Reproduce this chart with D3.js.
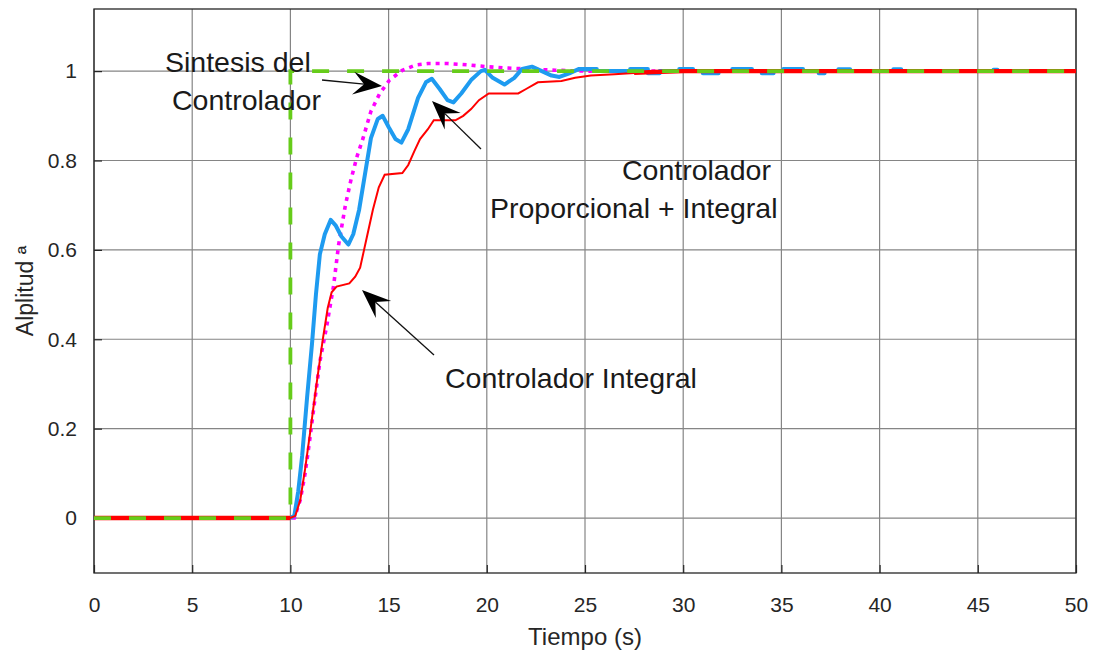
<!DOCTYPE html>
<html>
<head>
<meta charset="utf-8">
<script src="https://cdn.jsdelivr.net/npm/d3@7/dist/d3.min.js"></script>
<style>
  html, body { margin: 0; padding: 0; background: #ffffff; }
  svg { display: block; font-family: "Liberation Sans", Arial, sans-serif; }
</style>
</head>
<body>
<svg id="chart" width="1098" height="659"></svg>
<script>
// Step input (reference)
const refT = [0, 10, 10, 50];
const refY = [0, 0, 1, 1];

// Designed closed-loop response ("Sintesis del Controlador")
const synthT = [0, 10, 10.2, 10.5, 10.75, 11.0, 11.2, 11.5, 11.85, 12.2, 12.45, 12.8, 13.1, 13.4, 13.7, 14.1, 14.55, 15.05, 15.7, 16.4, 17.0, 18.0, 19.0, 20.0, 21.0, 22.0, 23.5, 25.0, 50];
const synthY = [0, 0, 0, 0.04, 0.10, 0.18, 0.25, 0.35, 0.43, 0.52, 0.61, 0.70, 0.76, 0.81, 0.85, 0.91, 0.95, 0.98, 1.002, 1.014, 1.017, 1.017, 1.014, 1.010, 1.007, 1.005, 1.002, 1.0, 1.0];

// PI controller response
const piT = [0, 10, 10.2, 10.4, 10.6, 10.85, 11.1, 11.3, 11.5, 11.75, 12.05, 12.3, 12.6, 12.95, 13.2, 13.5, 13.8, 14.1, 14.45, 14.7, 15.0, 15.35, 15.65, 16.0, 16.5, 16.9, 17.2, 17.6, 18.0, 18.3, 18.7, 19.2, 19.7, 19.9, 20.3, 20.9, 21.4, 21.8, 22.3, 22.8, 23.3, 23.7, 24.2, 24.7, 25.6, 25.6,
  27.3, 27.3, 28.2, 28.2, 28.8, 28.8, 29.8, 29.8, 30.5, 30.5, 31.0, 31.0, 31.8, 31.8, 32.5, 32.5, 33.5, 33.5, 34.0, 34.0, 34.6, 34.6, 35.1, 35.1, 36.1, 36.1, 36.9, 36.9, 37.2, 37.2, 37.9, 37.9, 38.5, 38.5, 40.7, 40.7, 41.1, 41.1, 45.8, 45.8, 46.0, 46.0, 50];
const piY = [0, 0, 0.005, 0.06, 0.14, 0.27, 0.39, 0.50, 0.59, 0.635, 0.667, 0.655, 0.63, 0.612, 0.635, 0.69, 0.77, 0.85, 0.893, 0.90, 0.875, 0.848, 0.84, 0.87, 0.94, 0.975, 0.983, 0.96, 0.935, 0.93, 0.95, 0.98, 1.0, 1.003, 0.985, 0.97, 0.985, 1.005, 1.01, 1.0, 0.99, 0.987, 0.995, 1.005, 1.005, 1.0,
  1.0, 1.005, 1.005, 0.995, 0.995, 1.0, 1.0, 1.005, 1.005, 1.0, 1.0, 0.995, 0.995, 1.0, 1.0, 1.005, 1.005, 1.0, 1.0, 0.995, 0.995, 1.0, 1.0, 1.005, 1.005, 1.0, 1.0, 0.995, 0.995, 1.0, 1.0, 1.004, 1.004, 1.0, 1.0, 1.004, 1.004, 1.0, 1.0, 1.003, 1.003, 1.0, 1.0];

// Integral controller response
const intT = [0, 10, 10.25, 10.5, 10.75, 11.0, 11.3, 11.65, 11.9, 12.1, 12.35, 13.0, 13.3, 13.55, 13.75, 13.9, 14.2, 14.5, 14.8, 15.7, 16.0, 16.3, 16.6, 17.0, 17.3, 18.4, 18.8, 19.2, 19.6, 20.1, 21.6, 22.0, 22.6, 23.8, 24.5, 25.3, 26.5, 27.5, 28.5, 30.0, 50];
const intY = [0, 0, 0.005, 0.04, 0.11, 0.19, 0.29, 0.40, 0.47, 0.505, 0.518, 0.525, 0.54, 0.56, 0.60, 0.63, 0.69, 0.74, 0.768, 0.772, 0.79, 0.82, 0.848, 0.87, 0.89, 0.89, 0.90, 0.915, 0.935, 0.95, 0.95, 0.96, 0.975, 0.978, 0.985, 0.99, 0.993, 0.996, 0.998, 1.0, 1.0];

const xTicks = [0, 5, 10, 15, 20, 25, 30, 35, 40, 45, 50];
const yTicks = [0, 0.2, 0.4, 0.6, 0.8, 1];
const xTickLabels = ["0", "5", "10", "15", "20", "25", "30", "35", "40", "45", "50"];
const yTickLabels = ["0", "0.2", "0.4", "0.6", "0.8", "1"];

const xTitle = "Tiempo (s)";
const yTitle = "Alplitud ª";

const svg = d3.select("#chart");
const plotLeft = 94, plotRight = 1076, plotTop = 9, plotBottom = 573;

const x = d3.scaleLinear().domain([0, 50]).range([plotLeft, plotRight]);
const y = d3.scaleLinear().domain([-0.123, 1.139]).range([plotBottom, plotTop]);

const zip = (ts, vs) => ts.map((t, i) => ({ t: t, v: vs[i] }));

// Grid
const grid = svg.append("g").attr("stroke", "#858585").attr("stroke-width", 1.2);
grid.selectAll("line.gx").data(xTicks).join("line").attr("class", "gx")
  .attr("x1", d => x(d)).attr("x2", d => x(d)).attr("y1", plotTop).attr("y2", plotBottom);
grid.selectAll("line.gy").data(yTicks).join("line").attr("class", "gy")
  .attr("x1", plotLeft).attr("x2", plotRight).attr("y1", d => y(d)).attr("y2", d => y(d));

// Axes
const axisColor = "#262626";
const xAxis = svg.append("g").attr("transform", `translate(0,${plotBottom})`)
  .call(d3.axisBottom(x).tickValues(xTicks).tickFormat((d, i) => xTickLabels[i]).tickSize(-8).tickPadding(24));
const yAxis = svg.append("g").attr("transform", `translate(${plotLeft},0)`)
  .call(d3.axisLeft(y).tickValues(yTicks).tickFormat((d, i) => yTickLabels[i]).tickSize(-8).tickPadding(17));
[xAxis, yAxis].forEach(a => {
  a.select(".domain").remove();
  a.selectAll(".tick line").attr("stroke", axisColor).attr("stroke-width", 1.2);
  a.selectAll(".tick text").attr("fill", axisColor).style("font-size", "21px")
    .style("font-family", "'Liberation Sans', Arial, sans-serif");
});

svg.append("rect").attr("x", plotLeft).attr("y", plotTop).attr("width", plotRight - plotLeft).attr("height", plotBottom - plotTop)
  .attr("fill", "none").attr("stroke", axisColor).attr("stroke-width", 1.3);

// Series (designed response underneath, then PI, integral, step input)
const line = d3.line().x(d => x(d.t)).y(d => y(d.v));
const plot = svg.append("g");

plot.append("path").datum(zip(synthT, synthY)).attr("d", line)
  .attr("fill", "none").attr("stroke", "#ff00ff").attr("stroke-width", 3.6)
  .attr("stroke-dasharray", "4 5");

plot.append("path").datum(zip(piT, piY)).attr("d", line)
  .attr("fill", "none").attr("stroke", "#1e9bf0").attr("stroke-width", 4).attr("stroke-linejoin", "round");

const intData = zip(intT, intY);
plot.append("path").datum(intData).attr("d", line)
  .attr("fill", "none").attr("stroke", "#ff0000").attr("stroke-width", 2);
// settled levels of the integral response drawn with the heavier scope stroke
plot.append("path").datum(intData)
  .attr("d", d3.line().defined(d => d.t <= 10 || d.t >= 27).x(d => x(d.t)).y(d => y(d.v)))
  .attr("fill", "none").attr("stroke", "#ff0000").attr("stroke-width", 4.4);

plot.append("path").datum(zip(refT, refY)).attr("d", line)
  .attr("fill", "none").attr("stroke", "#66cc1a").attr("stroke-width", 3.8)
  .attr("stroke-dasharray", "17 18");

// Axis titles
svg.append("text").attr("x", (plotLeft + plotRight) / 2).attr("y", 645).attr("text-anchor", "middle")
  .attr("fill", axisColor).style("font-size", "24px").text(xTitle);
svg.append("text").attr("transform", `translate(33,${(plotTop + plotBottom) / 2}) rotate(-90)`).attr("text-anchor", "middle")
  .attr("fill", axisColor).style("font-size", "23px").text(yTitle);

// Annotations with arrows
function arrow(x1, y1, x2, y2) {
  const g = svg.append("g");
  const ang = Math.atan2(y2 - y1, x2 - x1);
  const L = 29, Wh = 11.5, notch = 18;
  const ux = Math.cos(ang), uy = Math.sin(ang);
  const px = -uy, py = ux;
  const bx = x2 - ux * L, by = y2 - uy * L;
  const nx = x2 - ux * notch, ny = y2 - uy * notch;
  g.append("line").attr("x1", x1).attr("y1", y1).attr("x2", nx).attr("y2", ny)
    .attr("stroke", "#111").attr("stroke-width", 1.3);
  g.append("path")
    .attr("d", `M${x2},${y2}L${bx + px * Wh},${by + py * Wh}L${nx},${ny}L${bx - px * Wh},${by - py * Wh}Z`)
    .attr("fill", "#000");
}

const ann = svg.append("g").attr("fill", "#1a1a1a").style("font-size", "28.5px");
ann.append("text").attr("x", 165).attr("y", 72).text("Sintesis del");
ann.append("text").attr("x", 172).attr("y", 110).text("Controlador");
arrow(322, 80, 382, 86);

ann.append("text").attr("x", 622).attr("y", 180).text("Controlador");
ann.append("text").attr("x", 490).attr("y", 218).text("Proporcional + Integral");
arrow(481, 149, 432, 101);

ann.append("text").attr("x", 445).attr("y", 388).text("Controlador Integral");
arrow(434, 355, 362, 290);
</script>
</body>
</html>
